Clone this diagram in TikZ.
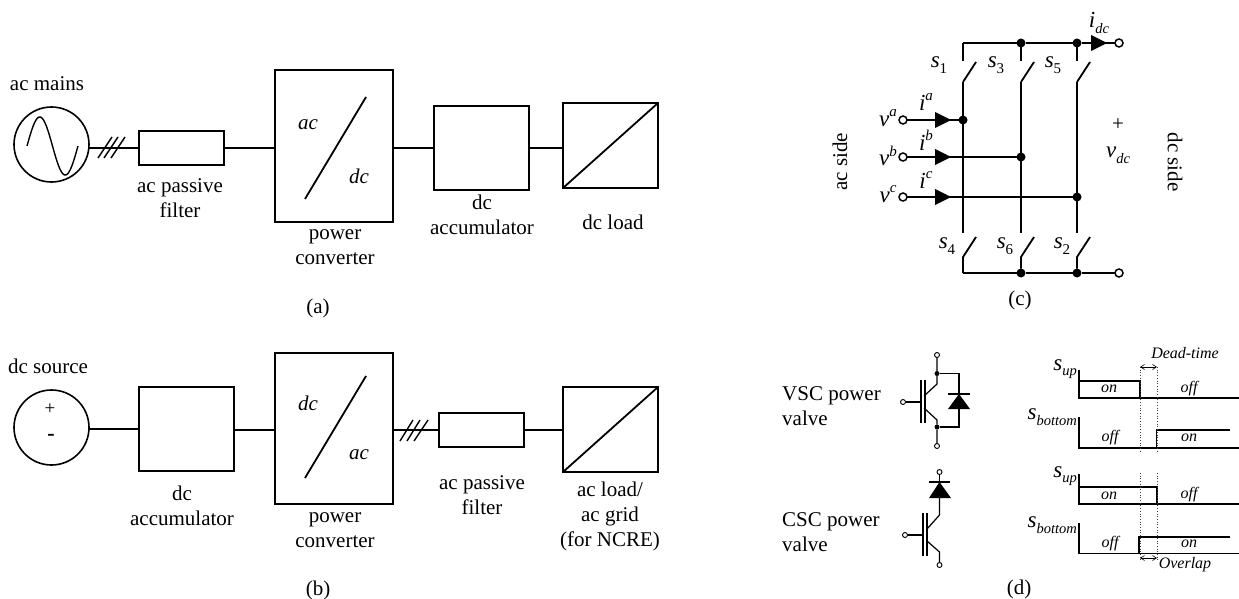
\documentclass[tikz,border=0pt]{standalone}
\usepackage{fontspec}
\setmainfont{Liberation Serif}
\usetikzlibrary{arrows.meta}
\newcommand{\subl}[2]{\textit{#1}\raisebox{-0.25em}{\fontsize{14.5}{15}\selectfont\textit{#2}}}
\newcommand{\subd}[2]{\textit{#1}\raisebox{-0.25em}{\fontsize{15}{15}\selectfont #2}}
\newcommand{\supl}[2]{\textit{#1}\raisebox{0.42em}{\fontsize{15}{15}\selectfont\textit{#2}}}
\tikzset{
  wire/.style={line width=1.8pt,line join=miter},
  thin wire/.style={line width=1.4pt},
  box/.style={draw,line width=1.6pt,inner sep=0pt,outer sep=0pt},
  src/.style={draw,circle,line width=1.6pt,minimum size=75pt,inner sep=0pt,outer sep=0pt},
  txt/.style={font=\fontsize{21}{25}\selectfont,inner sep=0pt,align=center},
  ital/.style={font=\fontsize{21}{25}\selectfont\itshape,inner sep=0pt},
  lbl/.style={font=\fontsize{23}{25}\selectfont,inner sep=0pt},
  tm/.style={font=\fontsize{16}{18}\selectfont\itshape,inner sep=0pt},
  dot/.style={circle,fill=black,minimum size=9pt,inner sep=0pt,outer sep=0pt},
  sdot/.style={circle,fill=black,minimum size=5pt,inner sep=0pt,outer sep=0pt},
  term/.style={circle,draw,fill=white,line width=1.5pt,minimum size=8pt,inner sep=0pt,outer sep=0pt},
  sterm/.style={circle,draw,fill=white,line width=0.9pt,minimum size=5pt,inner sep=0pt,outer sep=0pt},
  dim/.style={line width=0.6pt,{Straight Barb[length=4pt,width=5pt]}-{Straight Barb[length=4pt,width=5pt]}},
  guide/.style={line width=0.7pt,dotted,black!75},
  axis/.style={line width=1.6pt},
  pulse/.style={line width=1.2pt}
}
\begin{document}
\begin{tikzpicture}[x=1pt,y=-1pt]
\useasboundingbox (0,0) rectangle (1239,599);
% ---------- (a)
\node[src] (mains) at (51.5,144.5) {};
\draw[thin wire] plot[domain=0:360,samples=61] ({27+0.14167*\x},{146-29*sin(\x)});
\node[box,minimum width=85pt,minimum height=34pt] (fa) at (181.5,148) {};
\node[box,minimum width=118pt,minimum height=152pt] (pa) at (334,146) {};
\node[box,minimum width=95pt,minimum height=84pt] (ca) at (481.5,148) {};
\node[box,minimum width=95pt,minimum height=85pt] (la) at (610.5,145.5) {};
\draw[wire] (fa.west -| mains.east) -- (fa.west);
\draw[wire] (fa.east) -- (fa.east -| pa.west);
\draw[wire] (ca.west -| pa.east) -- (ca.west);
\draw[wire] (ca.east) -- (ca.east -| la.west);
\draw[thin wire] (98,158)--(112,137) (104,158)--(118,137) (111,158)--(125,137);
\draw[wire] (la.south west) -- (la.north east);
\draw[wire] (305,199) -- (366,97);
\node[ital] (acA) at (308,125) {ac};
\node[ital] (dcA) at (359,176) {dc};
\node[txt] (tmains) at (47,84) {ac mains};
\node[txt] (tfa) at (180,198) {ac passive\\filter};
\node[txt] (tpa) at (335,247) {power\\converter};
\node[txt] (tca) at (482,215) {dc\\accumulator};
\node[txt] (tla) at (613,222) {dc load};
\node[txt] (capa) at (318,308) {(a)};
% ---------- (b)
\node[src] (dcs) at (51.5,427.5) {};
\node[box,minimum width=95pt,minimum height=84pt] (cb) at (186.5,429) {};
\node[box,minimum width=118pt,minimum height=151pt] (pb) at (334,428.5) {};
\node[box,minimum width=85pt,minimum height=34pt] (fb) at (481.5,430) {};
\node[box,minimum width=95pt,minimum height=85pt] (lb) at (610.5,429.5) {};
\draw[wire] (cb.west -| dcs.east) -- (cb.west);
\draw[wire] (fb.west -| cb.east) -- (fb.west -| pb.west);
\draw[wire] (fb.west -| pb.east) -- (fb.west);
\draw[wire] (fb.east) -- (fb.east -| lb.west);
\draw[thin wire] (400,441)--(413,420) (407,441)--(420,420) (414,441)--(428,420);
\draw[wire] (lb.south west) -- (lb.north east);
\draw[wire] (305,478) -- (366,376);
\node[ital] (dcB) at (308,403) {dc};
\node[ital] (acB) at (359,455) {ac};
\node[font=\fontsize{19}{21}\selectfont,inner sep=0pt] (plus) at (50,409) {+};
\node[txt,font=\fontsize{22}{22}\selectfont\bfseries] (minus) at (51,437) {-};
\node[txt] (tdcs) at (48,366) {dc source};
\node[txt] (tcb) at (182,505.5) {dc\\accumulator};
\node[txt] (tpb) at (335,530) {power\\converter};
\node[txt] (tfb) at (482,495.5) {ac passive\\filter};
\node[txt] (tlb) at (610,516) {ac load/\\ac grid\\(for NCRE)};
\node[txt] (capb) at (318,590) {(b)};
% ---------- (c)
\coordinate (t1) at (963,43);
\node[dot] (t3) at (1021,43) {};
\node[dot] (t5) at (1077,43) {};
\node[term] (tp) at (1119,43) {};
\node[term] (bp) at (1119,273) {};
\coordinate (b4) at (963,273);
\node[dot] (b6) at (1021,273) {};
\node[dot] (b2) at (1077,273) {};
\node[term] (va) at (903,120) {};
\node[term] (vb) at (903,157) {};
\node[term] (vc) at (903,197) {};
\node[dot] (ja) at (963,120) {};
\node[dot] (jb) at (1021,157) {};
\node[dot] (jc) at (1077,197) {};
\draw[wire] (t1) -- (t3) -- (t5) -- (tp);
\draw[wire] (b4) -- (b6) -- (b2) -- (bp);
\draw[wire] (va) -- (ja);
\draw[wire] (vb) -- (jb);
\draw[wire] (vc) -- (jc);
\foreach \cx/\ntop/\nbot in {963/t1/b4,1021/t3/b6,1077/t5/b2}{
  \draw[wire] (\ntop) -- (\cx,61);
  \draw[wire] (\cx,82) -- (\cx,233);
  \draw[wire] (\cx,82) -- (\cx+13,62);
  \draw[wire] (\nbot) -- (\cx,257) -- (\cx+13,237);
}
\fill (935,112) -- (951,120) -- (935,128) -- cycle;
\fill (935,149) -- (951,157) -- (935,165) -- cycle;
\fill (935,189) -- (951,197) -- (935,205) -- cycle;
\fill (1091,35) -- (1107,43) -- (1091,51) -- cycle;
\node[lbl] (ls1) at (939,65) {\subd{s}{1}};
\node[lbl] (ls3) at (996,65) {\subd{s}{3}};
\node[lbl] (ls5) at (1053,65) {\subd{s}{5}};
\node[lbl] (ls4) at (947,246) {\subd{s}{4}};
\node[lbl] (ls6) at (1005,246) {\subd{s}{6}};
\node[lbl] (ls2) at (1062,246) {\subd{s}{2}};
\node[lbl] (lidc) at (1099,23) {\subl{i}{dc}};
\node[lbl] (lva) at (888,118) {\supl{v}{a}};
\node[lbl] (lvb) at (888,156) {\supl{v}{b}};
\node[lbl] (lvc) at (888,194) {\supl{v}{c}};
\node[lbl] (lia) at (926,102) {\supl{i}{a}};
\node[lbl] (lib) at (926,140) {\supl{i}{b}};
\node[lbl] (lic) at (926,180) {\supl{i}{c}};
\node[txt] (lp) at (1118,125) {+};
\node[lbl] (lvdc) at (1118,155) {\subl{v}{dc}};
\node[txt,rotate=90] (acs) at (840,162) {ac side};
\node[txt,rotate=-90] (dcs2) at (1175,162) {dc side};
\node[txt] (capc) at (1020,300) {(c)};
% ---------- (d) valves
\node[txt,align=left,anchor=west] (vsc) at (782,406) {VSC power\\valve};
\node[txt,align=left,anchor=west] (csc) at (782,532) {CSC power\\valve};
\node[sterm] (v1) at (937,355) {};
\node[sdot] (vj1) at (937,373.5) {};
\node[sdot] (vj2) at (937,427) {};
\node[sterm] (v2) at (937,446) {};
\node[sterm] (vg) at (903,402) {};
\coordinate (vd1) at (959,373.5);
\coordinate (vd2) at (959,427);
\draw[pulse] (v1) -- (vj1) -- (937,384) -- (924,396);
\draw[pulse] (v2) -- (vj2) -- (937,420) -- (924,408);
\draw[pulse] (vg) -- (921,402);
\draw[pulse] (921,380) -- (921,423) (925,380) -- (925,423);
\draw[pulse] (vj1) -- (vd1) -- (vd2) -- (vj2);
\fill (959,394) -- (970,409) -- (948,409) -- cycle;
\draw[pulse] (948,394) -- (970,394);
\node[sterm] (c1) at (939.5,472) {};
\node[sterm] (c2) at (939.5,565) {};
\node[sterm] (cg) at (905,535) {};
\draw[pulse] (c1) -- (939.5,482);
\draw[pulse] (929,482) -- (950,482);
\fill (939.5,482) -- (951,498) -- (929,498) -- cycle;
\draw[pulse] (939.5,498) -- (939.5,515) -- (927,529);
\draw[pulse] (c2) -- (939.5,552) -- (927,541);
\draw[pulse] (cg) -- (923,535);
\draw[pulse] (923,513) -- (923,556) (927,513) -- (927,556);
% ---------- (d) timing
\draw[axis] (1079,370) -- (1079,398) -- (1239,398);
\draw[axis] (1079,417) -- (1079,448) -- (1239,448);
\draw[axis] (1079,474) -- (1079,504) -- (1239,504);
\draw[axis] (1079,523) -- (1079,553.5) -- (1239,553.5);
\draw[pulse] (1079,381) -- (1140,381) -- (1140,398);
\draw[pulse] (1156.5,448) -- (1156.5,430) -- (1230,430);
\draw[pulse] (1079,487) -- (1157,487) -- (1157,504);
\draw[pulse] (1139,553) -- (1139,537) -- (1230,537);
\draw[guide] (1140,367) -- (1140,453);
\draw[guide] (1157,367) -- (1157,453);
\draw[guide] (1140,473) -- (1140,560);
\draw[guide] (1157,473) -- (1157,560);
\draw[dim] (1140,367) -- (1157,367);
\draw[dim] (1140,558) -- (1157,558);
\node[tm] (dt) at (1185,353) {Dead-time};
\node[tm] (ov) at (1185,565) {Overlap};
\node[lbl,anchor=east] (su1) at (1077,369) {\subl{s}{up}};
\node[lbl,anchor=east] (sb1) at (1077,417) {\subl{s}{bottom}};
\node[lbl,anchor=east] (su2) at (1077,476) {\subl{s}{up}};
\node[lbl,anchor=east] (sb2) at (1077,525) {\subl{s}{bottom}};
\node[tm] (on1) at (1109,389) {on};
\node[tm] (of1) at (1189,389) {off};
\node[tm] (of2) at (1110,438) {off};
\node[tm] (on2) at (1189,438) {on};
\node[tm] (on3) at (1109,496) {on};
\node[tm] (of3) at (1189,495) {off};
\node[tm] (of4) at (1110,544) {off};
\node[tm] (on4) at (1189,544) {on};
\node[txt] (capd) at (1019,589) {(d)};
\end{tikzpicture}
\end{document}
